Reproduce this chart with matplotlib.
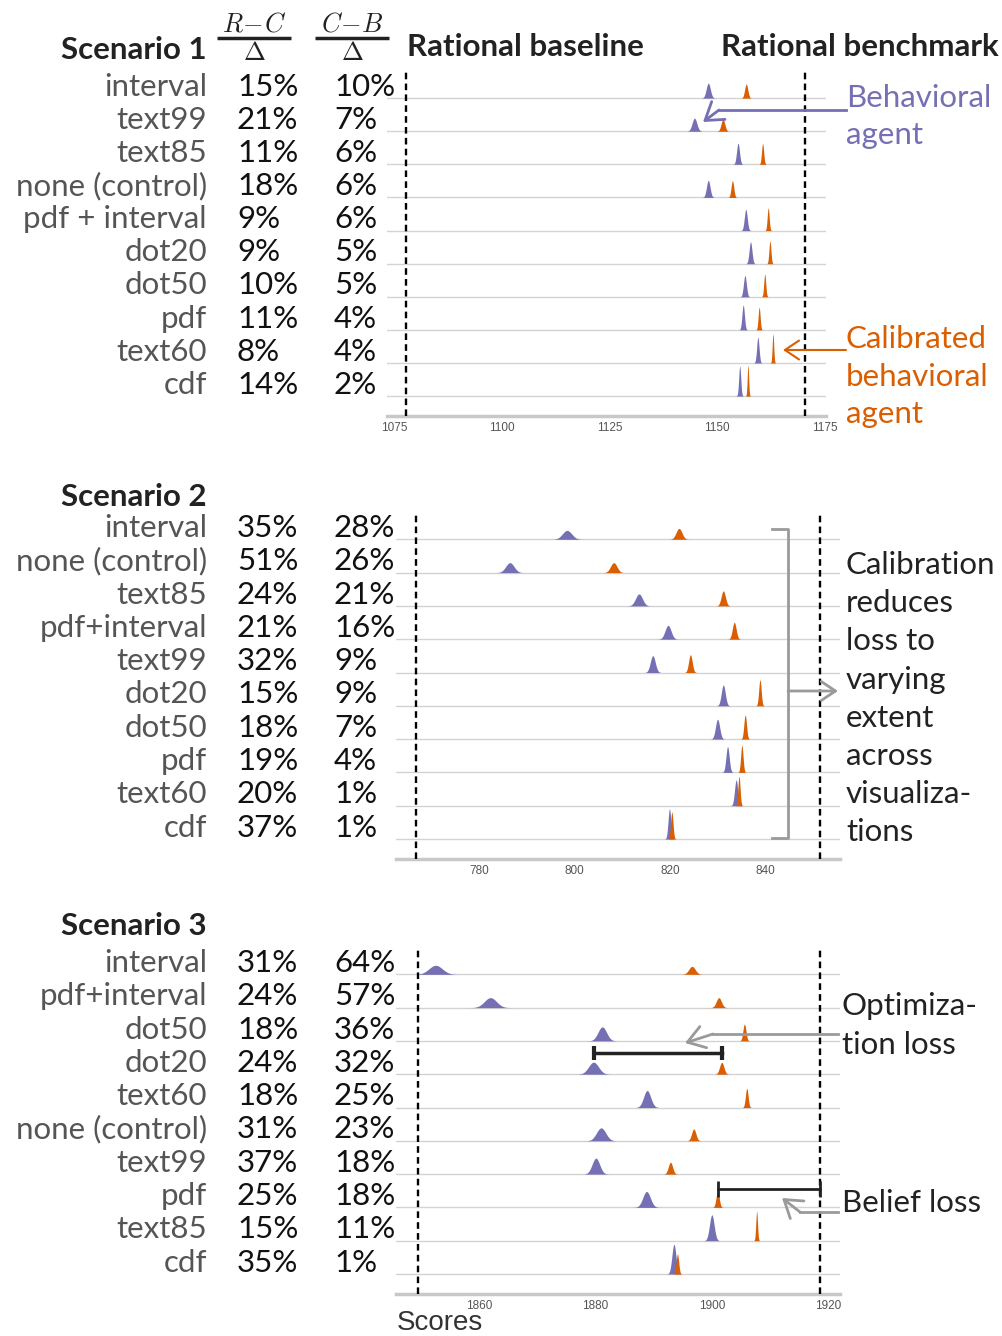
import numpy as np
import matplotlib
matplotlib.use('Agg')
import matplotlib.pyplot as plt
from matplotlib import transforms

W, H = 1003, 1336
PURPLE = '#7570b3'
ORANGE = '#d95f02'
GRID = '#d3d3d3'
ARROW_GRAY = '#9a9a9a'
FONT = ['Lato', 'DejaVu Sans']
FS = 22.5

# ---- Scenario 1 ----
s1_labels = ['interval', 'text99', 'text85', 'none (control)', 'pdf + interval',
             'dot20', 'dot50', 'pdf', 'text60', 'cdf']
s1_rc = ['15%', '21%', '11%', '18%', '9%', '9%', '10%', '11%', '8%', '14%']
s1_cb = ['10%', '7%', '6%', '6%', '6%', '5%', '5%', '4%', '4%', '2%']
s1_beh_mean = [1147.9, 1144.7, 1154.8, 1147.9, 1156.6, 1157.7, 1156.4, 1156.0, 1159.4, 1155.2]
s1_beh_sd = [0.48, 0.55, 0.34, 0.42, 0.34, 0.33, 0.34, 0.29, 0.28, 0.24]
s1_cal_mean = [1156.7, 1151.3, 1160.5, 1153.5, 1161.8, 1162.2, 1161.0, 1159.7, 1162.9, 1157.1]
s1_cal_sd = [0.37, 0.43, 0.25, 0.31, 0.23, 0.23, 0.23, 0.23, 0.18, 0.17]
s1_baseline, s1_benchmark = 1077.9, 1170.4
s1_ticks = [1075, 1100, 1125, 1150, 1175]

# ---- Scenario 2 ----
s2_labels = ['interval', 'none (control)', 'text85', 'pdf+interval', 'text99',
             'dot20', 'dot50', 'pdf', 'text60', 'cdf']
s2_rc = ['35%', '51%', '24%', '21%', '32%', '15%', '18%', '19%', '20%', '37%']
s2_cb = ['28%', '26%', '21%', '16%', '9%', '9%', '7%', '4%', '1%', '1%']
s2_beh_mean = [798.4, 786.4, 813.5, 819.6, 816.4, 831.2, 830.0, 832.1, 833.9, 819.9]
s2_beh_sd = [0.98, 0.88, 0.73, 0.63, 0.52, 0.42, 0.44, 0.34, 0.34, 0.29]
s2_cal_mean = [821.9, 808.2, 831.2, 833.5, 824.3, 838.9, 835.8, 835.1, 834.5, 820.4]
s2_cal_sd = [0.62, 0.68, 0.45, 0.40, 0.38, 0.26, 0.28, 0.25, 0.23, 0.25]
s2_baseline, s2_benchmark = 766.6, 851.4
s2_ticks = [780, 800, 820, 840]

# ---- Scenario 3 ----
s3_labels = ['interval', 'pdf+interval', 'dot50', 'dot20', 'text60',
             'none (control)', 'text99', 'pdf', 'text85', 'cdf']
s3_rc = ['31%', '24%', '18%', '24%', '18%', '31%', '37%', '25%', '15%', '35%']
s3_cb = ['64%', '57%', '36%', '32%', '25%', '23%', '18%', '18%', '11%', '1%']
s3_beh_mean = [1852.6, 1862.0, 1881.2, 1879.7, 1888.9, 1881.0, 1880.1, 1888.8, 1900.0, 1893.5]
s3_beh_sd = [1.15, 1.04, 0.74, 0.86, 0.61, 0.80, 0.65, 0.65, 0.40, 0.35]
s3_cal_mean = [1896.6, 1901.2, 1905.6, 1901.7, 1906.0, 1896.9, 1892.9, 1901.0, 1907.7, 1894.1]
s3_cal_sd = [0.55, 0.44, 0.26, 0.37, 0.23, 0.37, 0.37, 0.27, 0.15, 0.22]
s3_baseline, s3_benchmark = 1849.5, 1918.5
s3_ticks = [1860, 1880, 1900, 1920]


def px_box(l, t, r, b):
    return [l / W, 1 - b / H, (r - l) / W, (b - t) / H]


fig = plt.figure(figsize=(W / 100, H / 100), dpi=100)

ov = fig.add_axes([0, 0, 1, 1], zorder=5)
ov.set_xlim(0, W)
ov.set_ylim(H, 0)
ov.axis('off')
ov.patch.set_alpha(0)


def draw_panel(box, xlim, labels, rc, cb, bm, bs, cm, cs, base, bench, ticks,
               title, title_y, k_beh, k_cal):
    ax = fig.add_axes(px_box(*box))
    n = len(labels)
    rows = np.arange(n)[::-1]
    ax.set_xlim(*xlim)
    ax.set_ylim(-0.6, n - 0.18)
    for r in rows:
        ax.axhline(r, color=GRID, lw=1, zorder=1)
    for m, s, r in zip(bm, bs, rows):
        x = np.linspace(m - 4 * s, m + 4 * s, 200)
        y = np.exp(-0.5 * ((x - m) / s) ** 2) / (s * np.sqrt(2 * np.pi))
        ax.fill_between(x, r, r + k_beh * y, color=PURPLE, lw=0, zorder=2)
    for m, s, r in zip(cm, cs, rows):
        x = np.linspace(m - 4 * s, m + 4 * s, 200)
        y = np.exp(-0.5 * ((x - m) / s) ** 2) / (s * np.sqrt(2 * np.pi))
        ax.fill_between(x, r, r + k_cal * y, color=ORANGE, lw=0, zorder=3)
    for v in (base, bench):
        ax.axvline(v, color='black', lw=1.7, dashes=(2.8, 1.8), zorder=4)
    for sp in ('top', 'left', 'right'):
        ax.spines[sp].set_visible(False)
    ax.spines['bottom'].set_color('#c8c8c8')
    ax.spines['bottom'].set_linewidth(2.5)
    ax.set_yticks([])
    ax.set_xticks(ticks)
    ax.tick_params(axis='x', length=0, pad=4, labelsize=8.5, labelcolor='#555555')
    for lab in ax.get_xticklabels():
        lab.set_family('Liberation Sans')
    ax.patch.set_alpha(0)

    tr = transforms.blended_transform_factory(ov.transData, ax.transData)
    for lab, a, b, r in zip(labels, rc, cb, rows):
        ax.text(207, r + 0.07, lab, transform=tr, ha='right', va='baseline',
                fontsize=FS, color='#555555', family=FONT)
        ax.text(237, r + 0.07, a, transform=tr, ha='left', va='baseline',
                fontsize=FS, color='#111111', family=FONT)
        ax.text(334, r + 0.07, b, transform=tr, ha='left', va='baseline',
                fontsize=FS, color='#111111', family=FONT)
    ov.text(207, title_y, title, ha='right', va='baseline', fontsize=FS,
            fontweight='bold', color='#222222', family=FONT)
    return ax, rows


ax1, rows1 = draw_panel((387, 71, 826, 416), (1073.4, 1175.2), s1_labels, s1_rc, s1_cb,
                        s1_beh_mean, s1_beh_sd, s1_cal_mean, s1_cal_sd,
                        s1_baseline, s1_benchmark, s1_ticks, 'Scenario 1', 59,
                        18 / 33, 13 / 33)
ax2, rows2 = draw_panel((396, 512, 840, 859), (762.5, 855.7), s2_labels, s2_rc, s2_cb,
                        s2_beh_mean, s2_beh_sd, s2_cal_mean, s2_cal_sd,
                        s2_baseline, s2_benchmark, s2_ticks, 'Scenario 2', 506,
                        22 / 33.4, 17 / 33.4)
ax3, rows3 = draw_panel((396, 947, 840, 1294), (1845.8, 1922.0), s3_labels, s3_rc, s3_cb,
                        s3_beh_mean, s3_beh_sd, s3_cal_mean, s3_cal_sd,
                        s3_baseline, s3_benchmark, s3_ticks, 'Scenario 3', 935,
                        26 / 33.3, 11 / 33.3)

# header fractions
plt.rcParams['mathtext.fontset'] = 'cm'
for cx, num in ((254, r'$R\!-\!C$'), (352, r'$C\!-\!B$')):
    ov.text(cx, 31, num, ha='center', va='baseline', fontsize=19, color='#222222')
    ov.plot([cx - 37, cx + 37], [38, 38], color='#222222', lw=2.5, solid_capstyle='butt')
    ov.text(cx, 60, r'$\Delta$', ha='center', va='baseline', fontsize=19, color='#222222')
ov.text(407, 56, 'Rational baseline', ha='left', va='baseline', fontsize=FS,
        fontweight='bold', color='#222222', family=FONT)
ov.text(999, 56, 'Rational benchmark', ha='right', va='baseline', fontsize=FS,
        fontweight='bold', color='#222222', family=FONT)


def note(x, y0, lines, color, step):
    for i, s in enumerate(lines):
        ov.text(x, y0 + i * step, s, ha='left', va='baseline', fontsize=FS,
                color=color, family=FONT)


def arrow(tip, tail, color, lw, scale=20):
    ov.annotate('', xy=tip, xytext=tail,
                arrowprops=dict(arrowstyle='->,head_length=0.6,head_width=0.4',
                                color=color, lw=lw, shrinkA=0, shrinkB=0,
                                mutation_scale=scale))


# scenario 1 notes
note(846, 107, ['Behavioral', 'agent'], PURPLE, 37)
ov.plot([846, 719], [110, 110], color=PURPLE, lw=2)
arrow((703, 122), (719, 110), PURPLE, 2)
note(846, 348, ['Calibrated', 'behavioral', 'agent'], ORANGE, 37.5)
arrow((783, 350), (846, 350), ORANGE, 1.5, 17)

# scenario 2 notes
ov.plot([772, 788, 788, 772], [529, 529, 838, 838], color=ARROW_GRAY, lw=2)
arrow((838, 691), (788, 691), ARROW_GRAY, 2, 17)
note(846, 574, ['Calibration', 'reduces', 'loss to', 'varying', 'extent',
                'across', 'visualiza-', 'tions'], '#222222', 38.2)

# scenario 3 notes
note(842, 1015, ['Optimiza-', 'tion loss'], '#222222', 39)
ov.plot([838, 713], [1034, 1034], color=ARROW_GRAY, lw=2)
arrow((685, 1043), (713, 1034), ARROW_GRAY, 2)
note(842, 1212, ['Belief loss'], '#222222', 39)
ov.plot([838, 800], [1212, 1212], color=ARROW_GRAY, lw=2)
arrow((782, 1198), (800, 1212), ARROW_GRAY, 2)

# loss bars on scenario 3
i_opt = s3_labels.index('dot20')
y_opt = rows3[i_opt] + 0.64
ax3.plot([s3_beh_mean[i_opt], s3_cal_mean[i_opt]], [y_opt, y_opt], color='#222222', lw=2.5, zorder=6)
ax3.vlines([s3_beh_mean[i_opt], s3_cal_mean[i_opt]], y_opt - 0.22, y_opt + 0.22,
           color='#222222', lw=3, zorder=6)
i_bel = s3_labels.index('pdf')
y_bel = rows3[i_bel] + 0.56
ax3.plot([s3_cal_mean[i_bel], s3_benchmark], [y_bel, y_bel], color='#222222', lw=2, zorder=6)
ax3.vlines([s3_cal_mean[i_bel], s3_benchmark], y_bel - 0.24, y_bel + 0.24,
           color='#222222', lw=2, zorder=6)

ov.text(397, 1330, 'Scores', ha='left', va='baseline', fontsize=20,
        color='#333333', family=['Liberation Sans', 'DejaVu Sans'])

fig.savefig('out.png', dpi=100)
